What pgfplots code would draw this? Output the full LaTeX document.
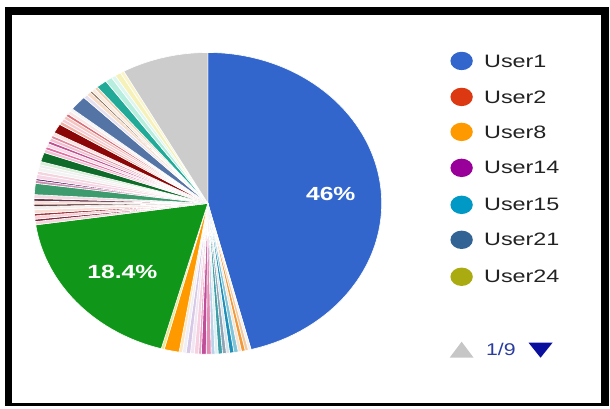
\documentclass[border=0pt]{standalone}
\usepackage{pgfplots}
\pgfplotsset{compat=1.18}
\usepackage{fontspec}
\setmainfont{Liberation Sans}
\definecolor{legtext}{HTML}{222222}
\definecolor{navy}{HTML}{0A0F9E}
\definecolor{pagetext}{HTML}{2A3CA0}
\definecolor{legA}{HTML}{3366CC}
\definecolor{legB}{HTML}{DC3912}
\definecolor{legC}{HTML}{FF9900}
\definecolor{legD}{HTML}{990099}
\definecolor{legE}{HTML}{0099C6}
\definecolor{legF}{HTML}{316395}
\definecolor{legG}{HTML}{AAAA11}
\newcount\slicen
\tikzset{legtxt/.style={anchor=west,text=legtext,font=\fontsize{9}{11}\selectfont,xscale=1.3,inner sep=0pt}}
\begin{document}
\begin{tikzpicture}
\begin{axis}[x=0.5pt,y=0.5pt,xmin=0,xmax=610,ymin=0,ymax=407,
  hide axis,clip=false,scale only axis]
\path (axis cs:0,0) (axis cs:610,407);
\def\cx{208}\def\cy{203.5}\def\rx{174}\def\ry{151}
\gdef\cum{0}
% slice shares (percent), clockwise from 12 o'clock, with colours
\pgfplotsforeachungrouped \p/\c in {
 46/3366CC,
 0.25/F5F0F0, 0.3/F5C9A0, 0.35/F29A3A, 0.3/FBE3CF, 0.4/7FC4D8, 0.4/1E8FB8,
 0.3/D9E4EA, 0.35/8FA5B5, 0.4/3E9FA8, 0.3/DCEFF2, 0.35/B9D3EA, 0.45/E58CB5,
 0.45/C04F9A, 0.25/E9A6C6, 0.4/F6CFE0, 0.35/F2E6F2, 0.4/D8C8E8, 0.35/EFEFF7, 0.3/FFE6C0,
 1.39/FF9900, 0.28/F0E68C,
 18.4/109618,
 0.35/F6D5DC, 0.25/7A2A3A, 0.35/F7D0D8, 0.25/A0303A, 0.4/F9DDD5, 0.35/F5F0F0,
 0.25/5A3030, 0.3/F8E0D8, 0.3/6B3A4A, 0.4/F3D9E2, 1.2/3D9B6E, 0.3/C98FB0,
 0.2/6A2C70, 0.45/F7D6E6, 0.35/F4D4DE, 0.4/F3F3F3, 0.3/EFEFEF, 0.35/D7EED7,
 1.0/0F6B2A, 0.35/F4C1D6, 0.3/E26FA4, 0.35/F8D9E6, 0.3/C05090, 0.35/F2C2D2,
 0.3/E08AA0, 0.35/FBE3E3, 1.0/8B0707, 0.35/F2B3A6, 0.35/F6CDD6, 0.35/F7C5C0,
 0.3/D8707A, 0.35/FAE6E6, 0.3/F5F5F5, 1.6/5574A6, 0.4/E6E0F0, 0.4/F7DCC8,
 0.2/8A6A50, 0.35/F8EADC, 0.3/F0D0B0, 1.0/22AA99, 0.65/B8EEDD, 0.4/DDF6F0,
 0.55/F5F1B8, 0.35/FAF5C8,
 8.03/CCCCCC}{%
  \global\advance\slicen by 1
  \xglobal\definecolor{slice\the\slicen}{HTML}{\c}%
  \pgfmathsetmacro\a{\cum}%
  \pgfmathsetmacro\b{\cum+3.6*\p}%
  \pgfmathtruncatemacro\ns{max(2,3.6*\p/1.5+2)}%
  \edef\tmp{\noexpand\addplot[draw=white,line width=0.3pt,fill=slice\the\slicen,
    domain=\a:\b,samples=\ns,variable=\noexpand\t]
    ({\cx+\rx*sin(\noexpand\t)},{\cy+\ry*cos(\noexpand\t)}) -- (axis cs:\cx,\cy) -- cycle;}%
  \tmp
  \xdef\cum{\b}%
}
% slice labels
\node[text=white,font=\fontsize{9.5}{11}\selectfont\bfseries,xscale=1.3] at (axis cs:331,212.5) {46\%};
\node[text=white,font=\fontsize{9.5}{11}\selectfont\bfseries,xscale=1.3] at (axis cs:122.5,134.5) {18.4\%};
% legend
\fill[legA] (axis cs:462,346) ellipse [x radius=5.6pt,y radius=4.6pt];
\node[legtxt] at (axis cs:484,346) {User1};
\fill[legB] (axis cs:462,310) ellipse [x radius=5.6pt,y radius=4.6pt];
\node[legtxt] at (axis cs:484,310) {User2};
\fill[legC] (axis cs:462,275) ellipse [x radius=5.6pt,y radius=4.6pt];
\node[legtxt] at (axis cs:484,275) {User8};
\fill[legD] (axis cs:462,239) ellipse [x radius=5.6pt,y radius=4.6pt];
\node[legtxt] at (axis cs:484,239) {User14};
\fill[legE] (axis cs:462,202) ellipse [x radius=5.6pt,y radius=4.6pt];
\node[legtxt] at (axis cs:484,202) {User15};
\fill[legF] (axis cs:462,167) ellipse [x radius=5.6pt,y radius=4.6pt];
\node[legtxt] at (axis cs:484,167) {User21};
\fill[legG] (axis cs:462,130) ellipse [x radius=5.6pt,y radius=4.6pt];
\node[legtxt] at (axis cs:484,130) {User24};
% pager
\fill[gray!45] (axis cs:450,49) -- (axis cs:474,49) -- (axis cs:462,65) -- cycle;
\node[anchor=west,text=pagetext,font=\fontsize{8.5}{10}\selectfont,xscale=1.25,inner sep=0pt]
  at (axis cs:486,57) {1/9};
\fill[navy] (axis cs:529,64) -- (axis cs:553,64) -- (axis cs:541,49) -- cycle;
% frame
\draw[line width=3.6pt] (axis cs:8.5,2) -- (axis cs:8.5,396) -- (axis cs:605.5,396) -- (axis cs:605.5,2);
\draw[line width=1.5pt] (axis cs:5,2.5) -- (axis cs:609,2.5);
\end{axis}
\end{tikzpicture}
\end{document}
